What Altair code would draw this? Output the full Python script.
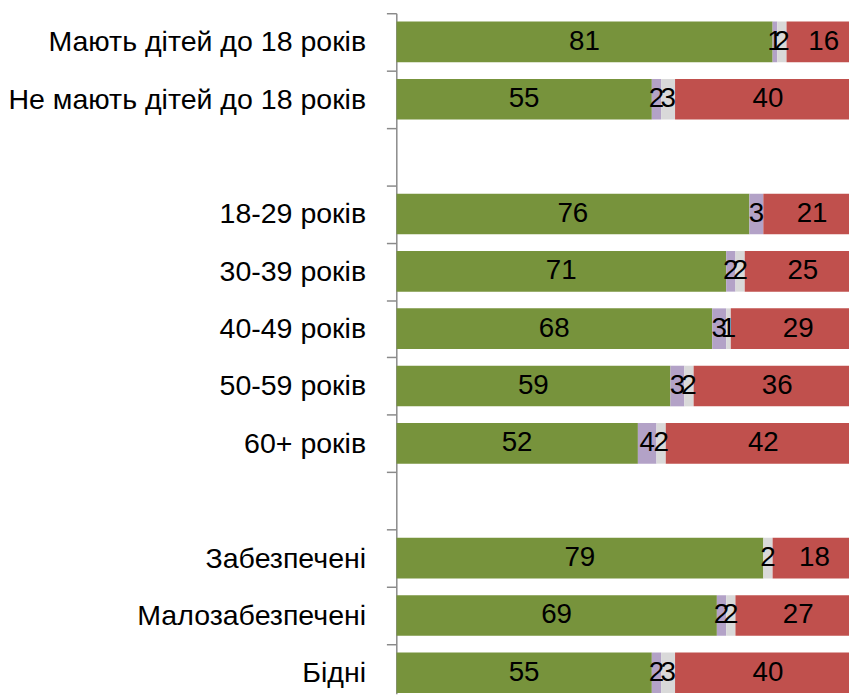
import altair as alt
import pandas as pd
import json

groups = ["Мають дітей до 18 років", "Не мають дітей до 18 років", "",
          "18-29 років", "30-39 років", "40-49 років", "50-59 років", "60+ років", "",
          "Забезпечені", "Малозабезпечені", "Бідні"]
data_groups = ["Мають дітей до 18 років", "Не мають дітей до 18 років",
               "18-29 років", "30-39 років", "40-49 років", "50-59 років", "60+ років",
               "Забезпечені", "Малозабезпечені", "Бідні"]

segments = ["Так", "Інше", "Важко сказати", "Ні"]
seg_colors = ["#77933C", "#B3A2C7", "#D9D9D9", "#C0504D"]

green = [81, 55, 76, 71, 68, 59, 52, 79, 69, 55]
purple = [1, 2, 3, 2, 3, 3, 4, 0, 2, 2]
gray = [2, 3, 0, 2, 1, 2, 2, 2, 2, 3]
red = [16, 40, 21, 25, 29, 36, 42, 18, 27, 40]

rows = []
for i, g in enumerate(data_groups):
    for k, (seg, vals) in enumerate(zip(segments, [green, purple, gray, red])):
        rows.append({"group": g, "row": groups.index(g), "segment": seg, "order": k, "value": vals[i]})
df = pd.DataFrame(rows)

font = "Liberation Sans"
PLOT_W, PLOT_H = 457, 687
STEP = 57.9          # pixel height of one row
BAR = 41.0           # pixel thickness of a bar
UNIT = 4.69          # pixels per percentage point

xscale = alt.Scale(domain=[0, PLOT_W / UNIT], nice=False, zero=False)
yscale = alt.Scale(domain=[0, PLOT_H / STEP], nice=False, zero=False, reverse=True)
pad = (1 - BAR / STEP) / 2

base = (
    alt.Chart(df)
    .transform_filter("datum.value > 0")
    .transform_stack(stack="value", groupby=["group"], as_=["x0", "x1"],
                     sort=[alt.SortField("order", order="ascending")])
    .transform_calculate(
        xm="(datum.x0 + datum.x1) / 2",
        ytop=f"datum.row + {pad}",
        ybot=f"datum.row + 1 - {pad}",
        ymid="datum.row + 0.5",
    )
)

label_expr = json.dumps(groups, ensure_ascii=False) + "[datum.value] || ''"

yaxis = alt.Axis(title=None, values=list(range(len(groups))), labelExpr=label_expr,
                 labelOffset=STEP / 2, labelFlush=False, labelOverlap=False, labelBound=False,
                 tickSize=10, tickWidth=1.5, tickColor="#8a8a8a",
                 domainColor="#8a8a8a", domainWidth=1.5,
                 labelFont=font, labelFontSize=28.8, labelColor="black",
                 labelPadding=21, labelLimit=500, grid=False)

bars = base.mark_bar(clip=True).encode(
    x=alt.X("x0:Q", scale=xscale, axis=None),
    x2="x1:Q",
    y=alt.Y("ytop:Q", scale=yscale, axis=yaxis),
    y2="ybot:Q",
    color=alt.Color("segment:N", scale=alt.Scale(domain=segments, range=seg_colors), legend=None),
)

text = base.mark_text(font=font, fontSize=28, color="black", baseline="middle",
                      align="center", clip=True).encode(
    x=alt.X("xm:Q", scale=xscale, axis=None),
    y=alt.Y("ymid:Q", scale=yscale, axis=yaxis),
    text=alt.Text("value:Q"),
)

chart = (
    alt.layer(bars, text)
    .properties(width=PLOT_W, height=PLOT_H,
                autosize=alt.AutoSizeParams(type="none"),
                padding={"left": 392, "top": 2, "right": 0, "bottom": 0},
                background="white")
    .configure_view(stroke=None)
)

chart.save("out.html", embed_options={"renderer": "svg", "actions": False})
